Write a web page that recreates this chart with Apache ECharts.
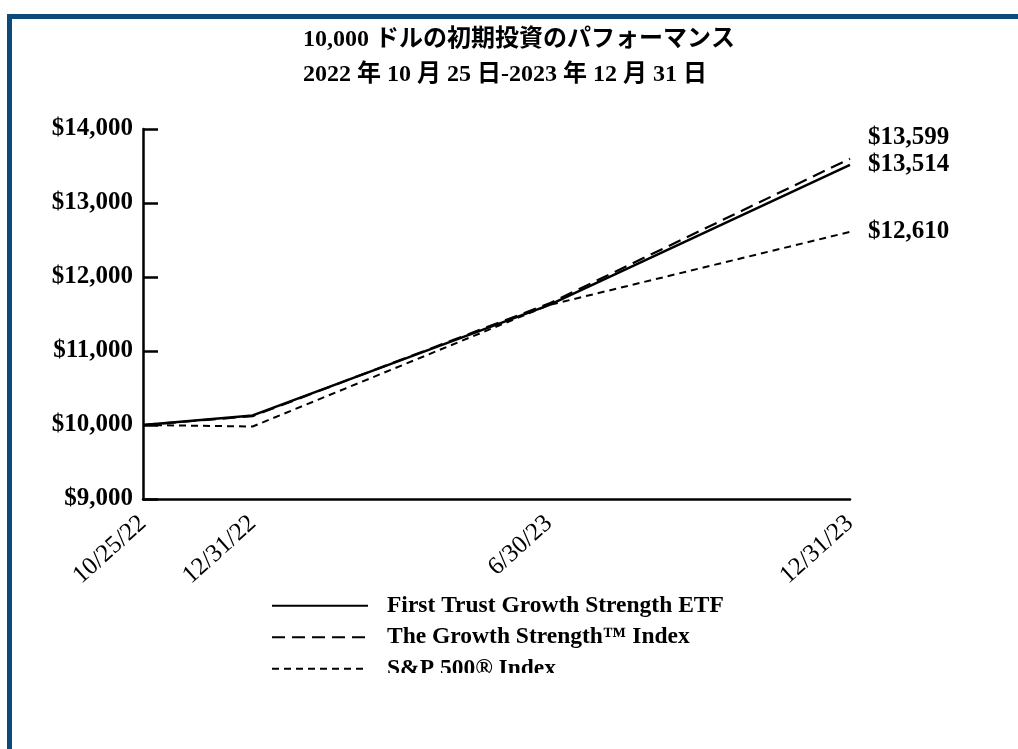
<!DOCTYPE html>
<html>
<head>
<meta charset="utf-8">
<script src="https://cdn.jsdelivr.net/npm/echarts@6/dist/echarts.min.js"></script>
<style>
html,body{margin:0;padding:0;background:#fff;}
#chart{width:1018px;height:749px;}
</style>
</head>
<body>
<div id="chart"></div>
<script>
const titleLines = ['10,000 ドルの初期投資のパフォーマンス', '2022 年 10 月 25 日-2023 年 12 月 31 日'];
const dates = ['2022-10-25', '2022-12-31', '2023-06-30', '2023-12-31'];
const xLabels = ['10/25/22', '12/31/22', '6/30/23', '12/31/23'];
const seriesNames = ['First Trust Growth Strength ETF', 'The Growth Strength™ Index', 'S&P 500® Index'];
const etfValues = [10000, 10130, 11620, 13514];
const indexValues = [10000, 10120, 11640, 13599];
const spValues = [10000, 9980, 11620, 12610];
const endLabels = ['$13,514', '$13,599', '$12,610'];
const yMin = 9000, yMax = 14000, yStep = 1000;

// x positions: days elapsed since the first date (true time spacing)
const DAY = 86400000;
const t0 = Date.parse(dates[0] + 'T00:00:00Z');
const xDays = dates.map(d => Math.round((Date.parse(d + 'T00:00:00Z') - t0) / DAY));
const pairs = vals => vals.map((v, i) => [xDays[i], v]);
const serif = '"Liberation Serif", "Times New Roman", "Noto Sans CJK JP", serif';
const fmtMoney = v => '$' + v.toLocaleString('en-US');

const chart = echarts.init(document.getElementById('chart'), null, {renderer: 'canvas'});
const lineCommon = {type: 'line', symbol: 'none', showSymbol: false, animation: false, silent: true};
const endLabelStyle = {fontFamily: serif, fontWeight: 'bold', fontSize: 25, color: '#000'};
chart.setOption({
  backgroundColor: '#fff',
  animation: false,
  title: {
    text: titleLines[0] + '\n' + titleLines[1],
    left: 298, top: 17,
    textStyle: {fontFamily: serif, fontWeight: 'bold', fontSize: 24, color: '#000', lineHeight: 35}
  },
  grid: {left: 143, right: 168, top: 129, bottom: 250, containLabel: false},
  legend: {
    orient: 'vertical', left: 266, top: 589,
    itemWidth: 96, itemHeight: 14, itemGap: 8,
    data: seriesNames,
    itemStyle: {opacity: 0, borderWidth: 0},
    textStyle: {fontFamily: serif, fontWeight: 'bold', fontSize: 23.5, color: '#000', lineHeight: 22, padding: [0, 0, 0, 14]},
    selectedMode: false
  },
  xAxis: {
    type: 'value', min: xDays[0], max: xDays[xDays.length - 1],
    axisLine: {lineStyle: {color: '#000', width: 2.5}},
    axisTick: {show: false},
    splitLine: {show: false},
    axisLabel: {
      customValues: xDays,
      rotate: 42, margin: 21,
      fontFamily: serif, fontSize: 25, color: '#000',
      showMinLabel: true, showMaxLabel: true,
      formatter: function (v) {
        const i = xDays.indexOf(Math.round(v));
        return i >= 0 ? xLabels[i] : '';
      }
    }
  },
  yAxis: {
    type: 'value', min: yMin, max: yMax, interval: yStep,
    axisLine: {show: true, lineStyle: {color: '#000', width: 2.5}},
    axisTick: {show: true, inside: true, length: 15, lineStyle: {color: '#000', width: 2.5}},
    splitLine: {show: false},
    axisLabel: {fontFamily: serif, fontWeight: 'bold', fontSize: 25, color: '#000', margin: 10,
      formatter: fmtMoney}
  },
  series: [
    Object.assign({}, lineCommon, {
      name: seriesNames[2], data: pairs(spValues), z: 2,
      lineStyle: {color: '#000', width: 2, type: [7, 5]},
      itemStyle: {color: '#000'},
      endLabel: Object.assign({show: true, formatter: endLabels[2], distance: 18}, endLabelStyle)
    }),
    Object.assign({}, lineCommon, {
      name: seriesNames[1], data: pairs(indexValues), z: 3,
      lineStyle: {color: '#000', width: 2.2, type: [13, 7]},
      itemStyle: {color: '#000'},
      endLabel: Object.assign({show: true, formatter: endLabels[1], distance: 18, offset: [0, -21]}, endLabelStyle)
    }),
    Object.assign({}, lineCommon, {
      name: seriesNames[0], data: pairs(etfValues), z: 4,
      lineStyle: {color: '#000', width: 2.5, type: 'solid'},
      itemStyle: {color: '#000'},
      endLabel: Object.assign({show: true, formatter: endLabels[0], distance: 18}, endLabelStyle)
    })
  ],
  graphic: [
    {type: 'rect', z: 100, silent: true, shape: {x: 12, y: 673, width: 1006, height: 76}, style: {fill: '#fff'}},
    {type: 'rect', z: 101, silent: true, shape: {x: 7, y: 14, width: 1011, height: 5}, style: {fill: '#0c4a79'}},
    {type: 'rect', z: 101, silent: true, shape: {x: 7, y: 14, width: 5, height: 735}, style: {fill: '#0c4a79'}}
  ]
});
</script>
</body>
</html>
